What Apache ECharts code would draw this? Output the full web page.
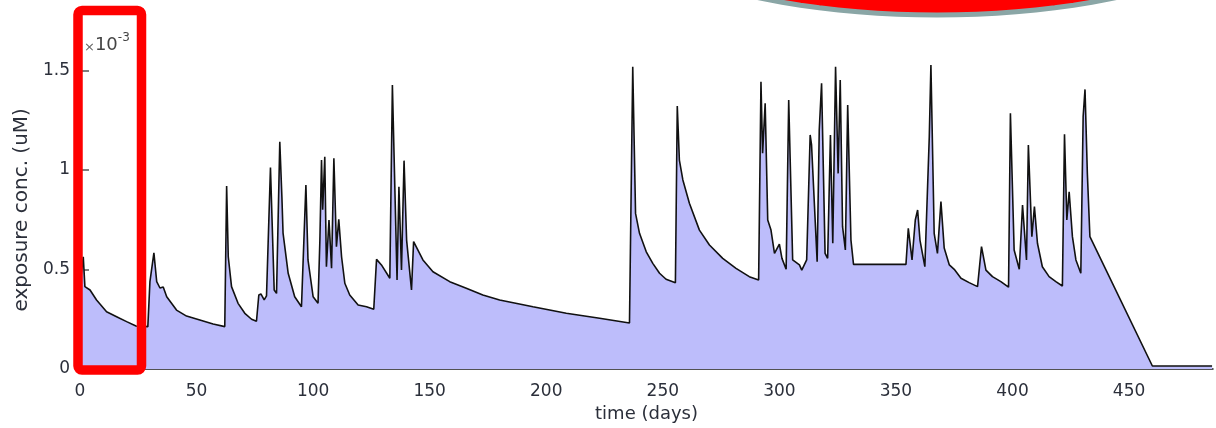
<!DOCTYPE html>
<html>
<head>
<meta charset="utf-8">
<script src="https://cdn.jsdelivr.net/npm/echarts@6/dist/echarts.min.js"></script>
<style>
  html, body { margin: 0; padding: 0; background: #fff; }
  #chart { width: 1216px; height: 428px; }
</style>
</head>
<body>
<div id="chart"></div>
<script>
// time (days) and exposure concentration (x 1e-3 uM)
const days = [
  0, 1.4, 2.1, 4.3, 5.0, 7.1, 11.4, 15.7, 20.0, 24.0, 29.1,
  30.0, 31.7, 32.9, 34.3, 35.7, 37.2, 41.4, 45.7, 51.4, 57.1, 62.1,
  62.9, 63.6, 65.0, 67.8, 70.7, 73.6, 75.7, 76.7, 77.6, 79.0, 80.0,
  81.7, 83.3, 84.3, 85.7, 86.6, 87.1, 89.3, 92.1, 95.0,
  96.9, 97.8, 100.0, 102.1, 102.9, 103.6, 104.1, 105.0, 105.7, 106.8, 107.9,
  108.9, 110.0, 111.0, 112.2, 113.6, 115.7, 119.3, 122.9, 126.0,
  127.2, 129.3, 132.9, 134.0, 136.0, 136.8, 137.9, 139.0, 140.1, 142.2,
  143.1, 147.1, 151.4, 158.6, 165.7, 172.8, 180.0, 194.3, 208.6, 222.9, 235.7,
  237.1, 238.3, 240.0, 242.9, 245.7, 248.6, 251.4, 255.4,
  256.2, 257.1, 258.6, 261.4, 265.7, 270.0, 275.7, 281.4, 287.1, 291.1,
  292.1, 292.8, 293.9, 295.0, 296.4, 297.9, 300.0, 301.1, 302.9,
  304.0, 305.7, 308.6, 309.6, 311.7, 313.2, 313.8, 316.2, 317.1, 318.1,
  319.6, 320.7, 321.9, 322.9, 324.1, 325.2, 326.1, 327.1, 328.3, 329.3,
  330.7, 331.8, 354.3,
  355.3, 356.9, 358.3, 359.3, 360.3, 362.4, 364.3, 365.0, 366.4, 367.8,
  369.3, 370.7, 372.9, 375.0, 377.9, 381.4, 385.0, 386.7, 388.6, 391.4,
  395.0, 398.3, 399.1, 400.7, 402.9, 404.3, 406.0, 406.8, 408.3, 409.4,
  410.7, 412.8, 415.7, 418.6, 421.4, 422.3, 423.3, 424.3, 425.7, 427.2,
  429.3, 430.3, 431.1, 432.1, 433.2, 460.0, 485.6
];
const conc = [
  0.42, 0.564, 0.414, 0.397, 0.405, 0.347, 0.288, 0.263, 0.238, 0.216, 0.213,
  0.439, 0.584, 0.439, 0.407, 0.412, 0.363, 0.296, 0.266, 0.246, 0.226, 0.213,
  0.92, 0.564, 0.414, 0.33, 0.28, 0.25, 0.24, 0.372, 0.377, 0.347, 0.367,
  1.012, 0.397, 0.38, 1.142, 0.866, 0.683, 0.481, 0.363, 0.313,
  0.925, 0.548, 0.363, 0.33, 0.648, 1.05, 0.8, 1.067, 0.514, 0.749, 0.506,
  1.059, 0.615, 0.752, 0.564, 0.431, 0.372, 0.322, 0.313, 0.3,
  0.551, 0.523, 0.456, 1.427, 0.447, 0.916, 0.497, 1.047, 0.648, 0.397,
  0.64, 0.548, 0.489, 0.439, 0.406, 0.372, 0.347, 0.313, 0.28, 0.255, 0.231,
  1.519, 0.782, 0.682, 0.589, 0.531, 0.481, 0.451, 0.434,
  1.322, 1.05, 0.95, 0.833, 0.698, 0.623, 0.556, 0.506, 0.464, 0.447,
  1.444, 1.084, 1.335, 0.749, 0.698, 0.581, 0.628, 0.556, 0.501,
  1.352, 0.548, 0.523, 0.497, 0.548, 1.176, 1.126, 0.539, 1.201, 1.436,
  0.581, 0.556, 1.176, 0.632, 1.519, 0.983, 1.452, 0.715, 0.598, 1.327,
  0.648, 0.526, 0.526,
  0.707, 0.548, 0.749, 0.799, 0.648, 0.514, 1.167, 1.528, 0.682, 0.581,
  0.841, 0.608, 0.523, 0.501, 0.456, 0.434, 0.414, 0.615, 0.497, 0.464,
  0.439, 0.411, 1.285, 0.598, 0.501, 0.824, 0.548, 1.126, 0.665, 0.816,
  0.632, 0.514, 0.464, 0.439, 0.417, 1.179, 0.749, 0.891, 0.665, 0.548,
  0.481, 1.268, 1.405, 0.983, 0.665, 0.015, 0.015
];
const xTicks = [0, 50, 100, 150, 200, 250, 300, 350, 400, 450];
const yTicks = [0, 0.5, 1, 1.5];

const chart = echarts.init(document.getElementById('chart'));
const font = 'DejaVu Sans';
const labelFont = { fontFamily: font, fontSize: 17, color: '#2b2f3a' };

// bottom of an ellipse sticking in from the top edge
const ellipse = [];
for (let i = 0; i <= 120; i += 1) {
  const t = (i / 120) * Math.PI * 2;
  ellipse.push([937 + 381 * Math.cos(t), -133 + 148 * Math.sin(t)]);
}

chart.setOption({
  animation: false,
  grid: { left: 80, right: 3, top: 50.6, bottom: 59 },
  xAxis: {
    type: 'value',
    min: 0,
    max: 486,
    name: 'time (days)',
    nameLocation: 'middle',
    nameGap: 35,
    nameTextStyle: { fontFamily: font, fontSize: 18, color: '#2b2f3a' },
    axisLine: { lineStyle: { color: '#1a1a1a', width: 1.5 } },
    axisTick: { inside: true, length: 6, customValues: xTicks, lineStyle: { color: '#2d3350', width: 1.5 } },
    axisLabel: { ...labelFont, margin: 14, customValues: xTicks },
    splitLine: { show: false },
  },
  yAxis: {
    type: 'value',
    min: 0,
    max: 1.6,
    name: 'exposure conc. (uM)',
    nameLocation: 'middle',
    nameGap: 47,
    nameTextStyle: { fontFamily: font, fontSize: 20, color: '#2b2f3a' },
    axisLine: { show: true, lineStyle: { color: '#1a1a1a', width: 1.5 } },
    axisTick: { inside: true, length: 9, customValues: yTicks, lineStyle: { color: '#555', width: 1.5 } },
    axisLabel: { ...labelFont, margin: 10, customValues: yTicks },
    splitLine: { show: false },
  },
  series: [
    {
      type: 'line',
      symbol: 'none',
      data: days.map((d, i) => [d, conc[i]]),
      lineStyle: { color: '#111', width: 1.6 },
      areaStyle: { color: '#bdbdfb', opacity: 1 },
    },
  ],
  graphic: [
    {
      type: 'text',
      left: 84,
      top: 32,
      style: {
        text: '{x|×}{b|10}{s|-3}',
        rich: {
          x: { fontFamily: font, fontSize: 13, fill: '#666', verticalAlign: 'bottom' },
          b: { fontFamily: font, fontSize: 18, fill: '#444', verticalAlign: 'bottom' },
          s: { fontFamily: font, fontSize: 12, fill: '#444', verticalAlign: 'top', padding: [0, 0, 10, 0] },
        },
      },
    },
    {
      type: 'rect',
      shape: { x: 78, y: 10.5, width: 63.5, height: 359.5, r: 4 },
      style: { fill: 'none', stroke: '#ff0000', lineWidth: 9.5 },
      z: 100,
    },
    {
      type: 'polygon',
      shape: { points: ellipse },
      style: { fill: '#ff0000', stroke: '#8aa6a6', lineWidth: 5 },
      z: 100,
    },
  ],
});
</script>
</body>
</html>
